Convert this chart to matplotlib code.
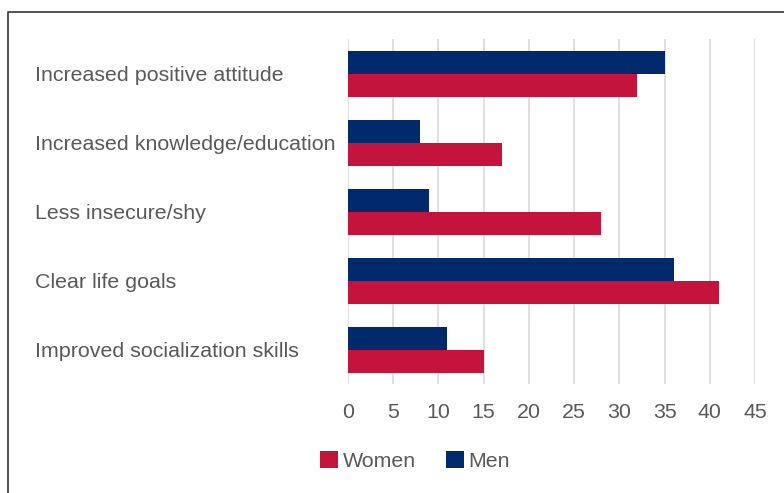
import matplotlib
matplotlib.use("Agg")
import matplotlib.pyplot as plt
from matplotlib.lines import Line2D
from matplotlib.patches import Patch
import numpy as np

categories = [
    "Increased positive attitude",
    "Increased knowledge/education",
    "Less insecure/shy",
    "Clear life goals",
    "Improved socialization skills",
]
men = [35, 8, 9, 36, 11]
women = [32, 17, 28, 41, 15]
x_ticks = [0, 5, 10, 15, 20, 25, 30, 35, 40, 45]

MEN_COLOR = "#002a6c"
WOMEN_COLOR = "#c4133c"
TEXT_COLOR = "#595959"
GRID_COLOR = "#dcdcdc"
FONT = "Liberation Sans"
FS = 15.4

W, H = 784, 493
fig = plt.figure(figsize=(W / 100, H / 100), dpi=100)

left, right, top, bottom = 348, 755, 39, 384
ax = fig.add_axes([left / W, 1 - bottom / H, (right - left) / W, (bottom - top) / H])

y = np.arange(len(categories))
bar_h = 1 / 3
ax.barh(y - bar_h / 2, men, height=bar_h, color=MEN_COLOR, zorder=3)
ax.barh(y + bar_h / 2, women, height=bar_h, color=WOMEN_COLOR, zorder=3)

ax.set_xlim(0, 45)
ax.set_ylim(len(categories) - 0.5, -0.5)
ax.set_xticks(x_ticks)
ax.set_xticklabels([str(t) for t in x_ticks], fontfamily=FONT, fontsize=FS, color=TEXT_COLOR)
ax.set_yticks(y)
ax.set_yticklabels(categories, fontfamily=FONT, fontsize=FS, color=TEXT_COLOR, ha="left")
ax.tick_params(axis="y", length=0, pad=(left - 35) * 0.72)
ax.tick_params(axis="x", length=0, pad=13.5)
for s in ax.spines.values():
    s.set_visible(False)
ax.grid(axis="x", color=GRID_COLOR, linewidth=1.3, zorder=0)
ax.set_axisbelow(True)

handles = [Patch(facecolor=WOMEN_COLOR, label="Women"), Patch(facecolor=MEN_COLOR, label="Men")]
leg = fig.legend(handles=handles, loc="center", bbox_to_anchor=(415 / W, 1 - 461 / H), ncol=2,
                 frameon=False, handlelength=0.85, handleheight=0.85, handletextpad=0.2,
                 columnspacing=1.4, prop={"family": FONT, "size": FS})
for t in leg.get_texts():
    t.set_color(TEXT_COLOR)

# outer frame (left and top edges)
frame = Line2D([8 / W, 8 / W, 1.0], [0.0, 1 - 12 / H, 1 - 12 / H], transform=fig.transFigure,
               color="#444444", linewidth=1.3)
fig.add_artist(frame)

fig.savefig("out.png", dpi=100)
